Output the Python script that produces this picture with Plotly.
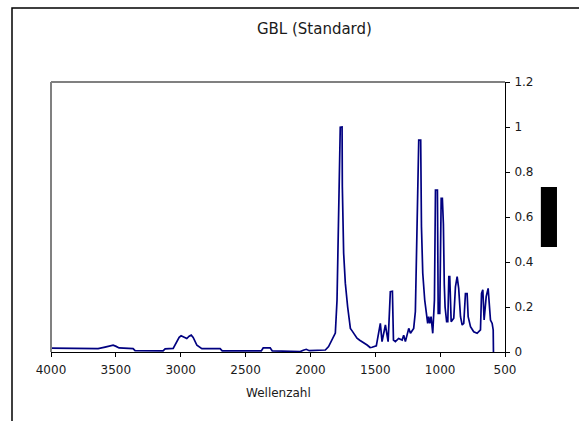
import plotly.graph_objects as go

# IR spectrum of GBL (Standard)
wavenumber = [4000, 3637, 3583, 3545, 3521, 3498, 3475, 3367, 3352, 3136, 3120, 3058,
              3030, 3012, 2997, 2981, 2953, 2935, 2919, 2904, 2875, 2837, 2696, 2680,
              2379, 2364, 2310, 2294, 2179, 2078, 2055, 2032, 2009, 1924, 1885,
              1860, 1834, 1808, 1795, 1780, 1770, 1756, 1754, 1744, 1731, 1713, 1692,
              1680, 1667, 1654, 1641, 1620, 1602, 1580, 1563, 1540, 1525, 1492, 1474, 1461, 1448, 1422, 1401, 1384,
              1368, 1360, 1345, 1320, 1293, 1281, 1268, 1242, 1229, 1204, 1191, 1183,
              1173, 1165, 1150, 1144, 1134, 1119, 1106, 1096, 1088, 1080, 1070, 1057,
              1044, 1036, 1021, 1015, 1003, 998, 992, 983, 975, 968, 962, 950, 941,
              933, 926, 915, 895, 882, 869, 857, 843, 830, 818, 805, 792, 784, 766,
              741, 715, 689, 681, 671, 661, 645, 630, 612, 599, 591, 589]
absorbance = [0.017, 0.015, 0.022, 0.025, 0.030, 0.025, 0.018, 0.015, 0.006, 0.005, 0.014, 0.016,
              0.045, 0.065, 0.072, 0.068, 0.060, 0.070, 0.075, 0.065, 0.030, 0.015, 0.015, 0.005,
              0.005, 0.018, 0.018, 0.005, 0.002, 0.002, 0.008, 0.012, 0.006, 0.006, 0.009,
              0.024, 0.053, 0.084, 0.230, 0.646, 0.999, 1.000, 0.735, 0.440, 0.306, 0.200, 0.105,
              0.095, 0.083, 0.070, 0.061, 0.052, 0.046, 0.036, 0.031, 0.020, 0.021, 0.027, 0.083, 0.127, 0.046, 0.120, 0.046, 0.268,
              0.270, 0.053, 0.046, 0.060, 0.053, 0.075, 0.046, 0.105, 0.083, 0.105, 0.180, 0.364,
              0.705, 0.942, 0.942, 0.557, 0.350, 0.231, 0.164, 0.127, 0.157, 0.127, 0.157, 0.083,
              0.231, 0.720, 0.720, 0.172, 0.172, 0.394, 0.683, 0.683, 0.570, 0.300, 0.200, 0.135, 0.135,
              0.335, 0.335, 0.135, 0.150, 0.290, 0.335, 0.283, 0.157, 0.120, 0.127, 0.260, 0.260, 0.157, 0.113,
              0.090, 0.083, 0.098, 0.260, 0.276, 0.142, 0.246, 0.283, 0.142, 0.127, 0.098, 0.0]

x_ticks = [4000, 3500, 3000, 2500, 2000, 1500, 1000, 500]
y_ticks = [0, 0.2, 0.4, 0.6, 0.8, 1, 1.2]
y_tick_labels = ["0", "0.2", "0.4", "0.6", "0.8", "1", "1.2"]

FONT = "DejaVu Sans, Liberation Sans, Arial, sans-serif"
TEXT = "#1a1a1a"

fig = go.Figure()
fig.add_trace(go.Scatter(
    x=wavenumber, y=absorbance, mode="lines",
    line=dict(color="#000080", width=1.7),
    showlegend=False, hoverinfo="skip",
))

fig.update_layout(
    width=579, height=421,
    margin=dict(l=51, r=74, t=82, b=69),
    paper_bgcolor="white", plot_bgcolor="white",
    font=dict(family=FONT, size=12, color=TEXT),
    title=dict(text="GBL (Standard)", x=0.543, xanchor="center",
               y=1 - 29 / 421, yanchor="middle",
               font=dict(family=FONT, size=15, color=TEXT)),
    xaxis=dict(range=[4000, 500], tickvals=x_ticks, ticktext=[str(v) for v in x_ticks],
               ticks="outside", ticklen=4, tickcolor="black", showline=True,
               linecolor="black", linewidth=1, showgrid=False, zeroline=False,
               tickfont=dict(size=12), ticklabelstandoff=3),
    yaxis=dict(range=[0, 1.2], side="right", tickvals=y_ticks, ticktext=y_tick_labels,
               ticks="outside", ticklen=4, tickcolor="black", showline=True,
               linecolor="black", linewidth=1, showgrid=False, zeroline=False,
               tickfont=dict(size=12), ticklabelstandoff=2),
    showlegend=False,
)

# x-axis title
fig.add_annotation(text="Wellenzahl", xref="paper", yref="paper", x=0.502, y=-0.152,
                   showarrow=False, xanchor="center", yanchor="middle",
                   font=dict(family=FONT, size=12, color=TEXT))

shapes = [
    # outer chart border
    dict(type="rect", xref="paper", yref="paper", x0=-0.0859, x1=1.3, y0=-0.4, y1=1.274,
         line=dict(color="black", width=1.5), fillcolor="rgba(0,0,0,0)", layer="below"),
    # gray plot-area border (left and top)
    dict(type="line", xref="paper", yref="paper", x0=0, x1=0, y0=0, y1=1,
         line=dict(color="#808080", width=2)),
    dict(type="line", xref="paper", yref="paper", x0=0, x1=1, y0=1, y1=1,
         line=dict(color="#808080", width=2)),
    # legend block
    dict(type="rect", xref="paper", yref="paper", x0=1.079, x1=1.1145, y0=0.389, y1=0.611,
         line=dict(color="black", width=0), fillcolor="black"),
]
fig.update_layout(shapes=shapes)

fig.write_html("out.html")
